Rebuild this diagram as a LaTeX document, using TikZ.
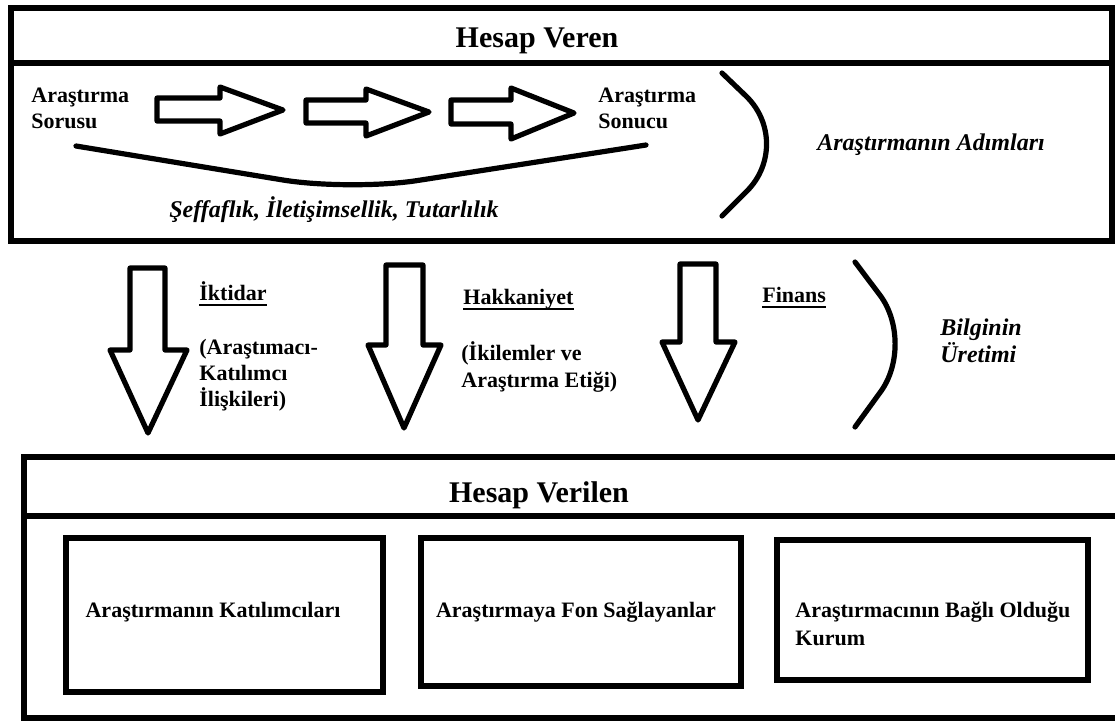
\documentclass[tikz,border=0pt]{standalone}
\usepackage{fontspec}
\setmainfont{Liberation Serif}
\begin{document}
\begin{tikzpicture}[x=0.5pt,y=-0.5pt,
  frame/.style={draw=black,line width=3pt,line join=miter},
  ibox/.style={draw=black,line width=3.3pt},
  shp/.style={draw=black,line width=2.6pt,line join=round,fill=white},
  crv/.style={draw=black,line width=2.6pt,line cap=round},
  uline/.style={draw=black,line width=0.9pt},
  ttl/.style={font=\fontsize{15}{18}\selectfont\bfseries,inner sep=0pt},
  lbl/.style={font=\fontsize{11}{13}\selectfont\bfseries,inner sep=0pt},
  ilbl/.style={font=\fontsize{12}{14}\selectfont\bfseries\itshape,inner sep=0pt}]
\useasboundingbox (0,0) rectangle (1115,720);
\clip (0,0) rectangle (1115,720);
\fill[white] (0,0) rectangle (1115,720);

% ---------- top box ----------
\draw[frame] (11,8) rectangle (1112,241);
\draw[frame] (11,63) -- (1112,63);
\node[ttl,anchor=base] (hv) at (537,47) {Hesap Veren};

\node[lbl,anchor=base west] (soru1) at (31,102) {Araştırma};
\node[lbl,anchor=base west] (soru2) at (31,128) {Sorusu};
\node[lbl,anchor=base west] (son1) at (598,102) {Araştırma};
\node[lbl,anchor=base west] (son2) at (598,128) {Sonucu};

% right block arrows
\draw[shp] (157,98) -- (220,98) -- (220,87) -- (283,110) -- (220,134) -- (220,121) -- (157,121) -- cycle;
\draw[shp] (306,100) -- (366,100) -- (366,89) -- (429,112) -- (366,136) -- (366,123) -- (306,123) -- cycle;
\draw[shp] (451,100) -- (511,100) -- (511,88) -- (574,113) -- (511,139) -- (511,124) -- (451,124) -- cycle;

% smile curve
\draw[crv,rounded corners=34pt] (76,146) -- (350,191) -- (646,145);
\node[ilbl,anchor=base] (seff) at (334,217) {Şeffaflık, İletişimsellik, Tutarlılık};

% bracket 1
\draw[crv,rounded corners=34pt] (722,73) -- (795,143) -- (722,216);
\node[ilbl,anchor=base west] (adim) at (817,150) {Araştırmanın Adımları};

% ---------- middle ----------
\draw[shp] (130,268) -- (165,268) -- (165,350) -- (187,350) -- (148,433) -- (110,350) -- (130,350) -- cycle;
\draw[shp] (386,265) -- (423,265) -- (423,345) -- (441,345) -- (404,428) -- (368,345) -- (386,345) -- cycle;
\draw[shp] (680,264) -- (716,264) -- (716,342) -- (735,342) -- (698,420) -- (662,342) -- (680,342) -- cycle;

\node[lbl,anchor=base west] (ikt) at (199,300) {İktidar};
\draw[uline] ([yshift=-2.6pt]ikt.base west) -- ([yshift=-2.6pt]ikt.base east);
\node[lbl,anchor=base west] (ikt1) at (199,354) {(Araştımacı-};
\node[lbl,anchor=base west] (ikt2) at (199,380) {Katılımcı};
\node[lbl,anchor=base west] (ikt3) at (199,406) {İlişkileri)};

\node[lbl,anchor=base west] (hak) at (463,304) {Hakkaniyet};
\draw[uline] ([yshift=-2.6pt]hak.base west) -- ([yshift=-2.6pt]hak.base east);
\node[lbl,anchor=base west] (hak1) at (461,360) {(İkilemler ve};
\node[lbl,anchor=base west] (hak2) at (461,387) {Araştırma Etiği)};

\node[lbl,anchor=base west] (fin) at (762,302) {Finans};
\draw[uline] ([yshift=-2.6pt]fin.base west) -- ([yshift=-2.6pt]fin.base east);

% bracket 2
\draw[crv,rounded corners=30pt] (855,262) -- (916,343) -- (855,427);
\node[ilbl,anchor=base west] (bil1) at (940,335) {Bilginin};
\node[ilbl,anchor=base west] (bil2) at (940,362) {Üretimi};

% ---------- bottom box ----------
\draw[frame] (24,457) rectangle (1140,718);
\draw[frame] (24,516) -- (1140,516);
\node[ttl,anchor=base] (hvl) at (539,502) {Hesap Verilen};

\draw[ibox] (66,538) rectangle (383,692);
\node[lbl,anchor=base] (k1) at (213,617) {Araştırmanın Katılımcıları};
\draw[ibox] (421,538) rectangle (741,686);
\node[lbl,anchor=base] (k2) at (576,617) {Araştırmaya Fon Sağlayanlar};
\draw[ibox] (777,540) rectangle (1088,680);
\node[lbl,anchor=base west] (k3a) at (795,617) {Araştırmacının Bağlı Olduğu};
\node[lbl,anchor=base west] (k3b) at (795,645) {Kurum};
\end{tikzpicture}
\end{document}
